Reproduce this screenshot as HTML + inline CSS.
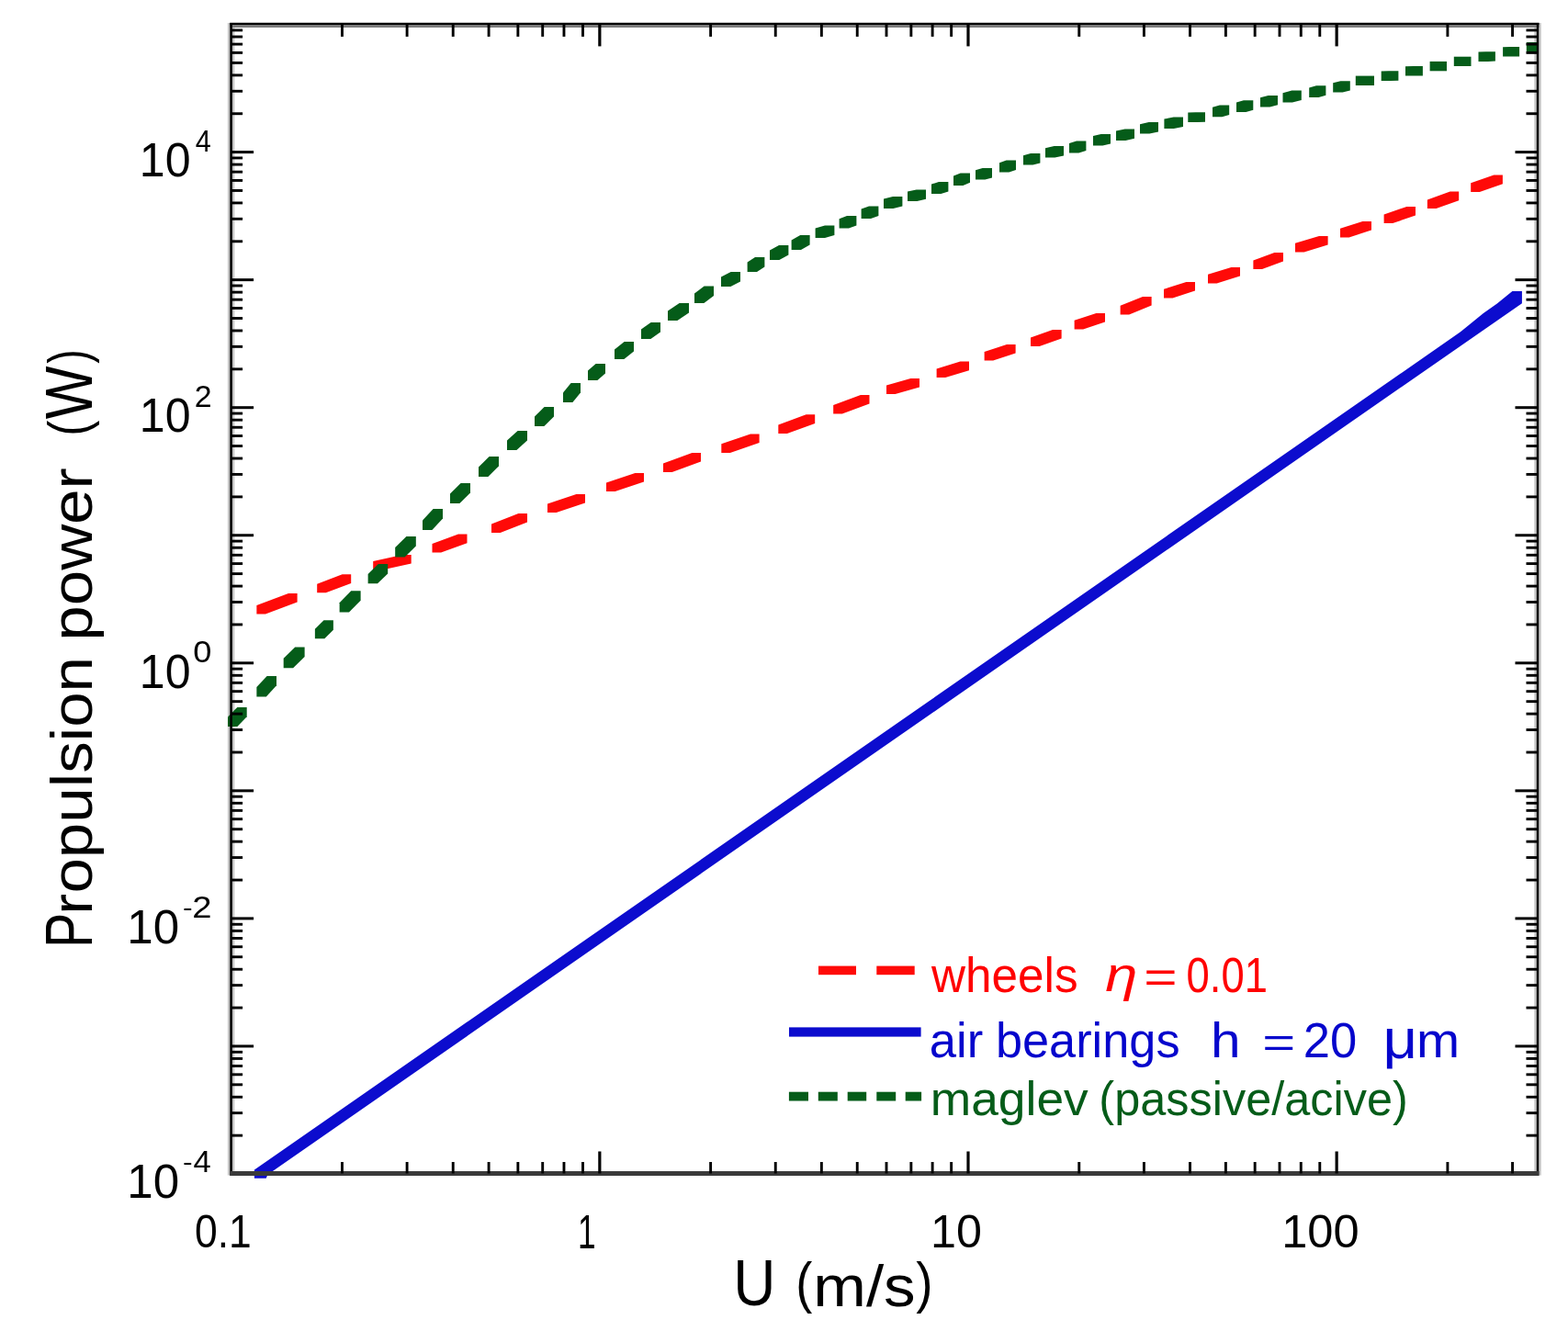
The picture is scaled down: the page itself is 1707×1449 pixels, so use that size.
<!DOCTYPE html><html><head><meta charset="utf-8"><title>Propulsion power vs U</title><style>html,body{margin:0;padding:0;background:#fff;overflow:hidden}svg{display:block}svg text{white-space:pre}</style></head><body><svg width="1707" height="1449" viewBox="0 0 1707 1449">
<rect width="100%" height="100%" fill="#fff"/>
<g font-family="'Liberation Sans', Arial, sans-serif" xml:space="preserve">
<line x1="251.6" y1="24.9" x2="251.6" y2="1279.5" stroke="#c6c6c6" stroke-width="7.4"/>
<line x1="1674.0" y1="24.9" x2="1674.0" y2="1279.5" stroke="#c6c6c6" stroke-width="7.4"/>
<line x1="250.2" y1="28.4" x2="1675.5" y2="28.4" stroke="#7c7c7c" stroke-width="3.0"/>
<polygon fill="#0c0cce" points="276.90,1282.80 289.70,1282.80 291.50,1278.70 1656.90,330.13 1656.90,317.10 1646.40,317.10 1629.80,330.60 1614.90,341.10 1590.00,361.31 276.90,1273.54"/>
<g fill="#ff0a08">
<polygon points="279.40,668.60 289.00,668.60 323.60,655.60 323.60,646.00 314.00,646.00 279.40,659.00"/>
<polygon points="345.20,645.30 354.80,645.30 382.20,634.90 382.20,625.30 372.60,625.30 345.20,635.70"/>
<polygon points="406.20,620.60 415.80,620.60 447.70,613.60 447.70,604.00 438.10,604.00 406.20,611.00"/>
<polygon points="470.50,601.60 480.10,601.60 508.50,591.20 508.50,581.60 498.90,581.60 470.50,592.00"/>
<polygon points="535.00,580.00 544.60,580.00 574.00,568.60 574.00,559.00 564.40,559.00 535.00,570.40"/>
<polygon points="596.00,558.00 605.60,558.00 637.00,547.60 637.00,538.00 627.40,538.00 596.00,548.40"/>
<polygon points="660.00,535.00 669.60,535.00 701.00,524.60 701.00,515.00 691.40,515.00 660.00,525.40"/>
<polygon points="722.00,514.00 731.60,514.00 763.00,502.60 763.00,493.00 753.40,493.00 722.00,504.40"/>
<polygon points="785.30,492.90 794.90,492.90 826.60,482.00 826.60,472.40 817.00,472.40 785.30,483.30"/>
<polygon points="847.30,472.00 856.90,472.00 887.20,460.90 887.20,451.30 877.60,451.30 847.30,462.40"/>
<polygon points="907.20,450.60 916.80,450.60 946.50,439.60 946.50,430.00 936.90,430.00 907.20,441.00"/>
<polygon points="965.00,429.00 974.60,429.00 1001.00,421.60 1001.00,412.00 991.40,412.00 965.00,419.40"/>
<polygon points="1019.60,411.00 1029.20,411.00 1055.00,403.20 1055.00,393.60 1045.40,393.60 1019.60,401.40"/>
<polygon points="1071.60,392.60 1081.20,392.60 1105.60,384.60 1105.60,375.00 1096.00,375.00 1071.60,383.00"/>
<polygon points="1122.00,377.00 1131.60,377.00 1155.60,368.60 1155.60,359.00 1146.00,359.00 1122.00,367.40"/>
<polygon points="1169.60,358.40 1179.20,358.40 1203.00,350.60 1203.00,341.00 1193.40,341.00 1169.60,348.80"/>
<polygon points="1219.60,342.40 1229.20,342.40 1253.60,332.60 1253.60,323.00 1244.00,323.00 1219.60,332.80"/>
<polygon points="1267.00,324.40 1276.60,324.40 1301.00,316.60 1301.00,307.00 1291.40,307.00 1267.00,314.80"/>
<polygon points="1315.00,308.40 1324.60,308.40 1350.00,300.60 1350.00,291.00 1340.40,291.00 1315.00,298.80"/>
<polygon points="1364.40,293.00 1374.00,293.00 1397.00,284.60 1397.00,275.00 1387.40,275.00 1364.40,283.40"/>
<polygon points="1410.00,274.40 1419.60,274.40 1445.60,266.60 1445.60,257.00 1436.00,257.00 1410.00,264.80"/>
<polygon points="1459.00,258.40 1468.60,258.40 1493.00,250.60 1493.00,241.00 1483.40,241.00 1459.00,248.80"/>
<polygon points="1506.60,243.00 1516.20,243.00 1541.00,234.50 1541.00,224.90 1531.40,224.90 1506.60,233.40"/>
<polygon points="1553.90,227.00 1563.50,227.00 1588.20,218.20 1588.20,208.60 1578.60,208.60 1553.90,217.40"/>
<polygon points="1601.20,208.90 1610.80,208.90 1635.90,200.20 1635.90,190.60 1626.30,190.60 1601.20,199.30"/>
</g>
<g fill="#055c19">
<polygon points="248.00,791.00 258.40,791.00 268.70,780.30 268.70,769.90 258.30,769.90 248.00,780.60"/>
<polygon points="279.40,758.50 289.80,758.50 301.00,746.30 301.00,735.90 290.60,735.90 279.40,748.10"/>
<polygon points="308.70,727.20 319.10,727.20 331.60,715.00 331.60,704.60 321.20,704.60 308.70,716.80"/>
<polygon points="342.90,695.20 353.30,695.20 362.90,685.70 362.90,675.30 352.50,675.30 342.90,684.80"/>
<polygon points="369.60,666.60 380.00,666.60 392.60,653.70 392.60,643.30 382.20,643.30 369.60,656.20"/>
<polygon points="400.60,635.30 411.00,635.30 422.20,624.40 422.20,614.00 411.80,614.00 400.60,624.90"/>
<polygon points="430.20,606.50 440.60,606.50 452.80,594.40 452.80,584.00 442.40,584.00 430.20,596.10"/>
<polygon points="460.00,577.00 470.40,577.00 482.00,564.40 482.00,554.00 471.60,554.00 460.00,566.60"/>
<polygon points="490.00,548.00 500.40,548.00 512.00,536.40 512.00,526.00 501.60,526.00 490.00,537.60"/>
<polygon points="521.00,519.00 531.40,519.00 543.00,507.40 543.00,497.00 532.60,497.00 521.00,508.60"/>
<polygon points="552.00,490.00 562.40,490.00 574.00,479.40 574.00,469.00 563.60,469.00 552.00,479.60"/>
<polygon points="582.00,464.00 592.40,464.00 603.00,453.40 603.00,443.00 592.60,443.00 582.00,453.60"/>
<polygon points="613.00,438.00 623.40,438.00 632.00,427.40 632.00,417.00 621.60,417.00 613.00,427.60"/>
<polygon points="640.00,414.00 650.40,414.00 659.00,406.40 659.00,396.00 648.60,396.00 640.00,403.60"/>
<polygon points="669.00,391.00 679.40,391.00 690.00,382.40 690.00,372.00 679.60,372.00 669.00,380.60"/>
<polygon points="698.00,369.00 708.40,369.00 719.00,361.40 719.00,351.00 708.60,351.00 698.00,358.60"/>
<polygon points="727.00,349.00 737.40,349.00 750.00,340.40 750.00,330.00 739.60,330.00 727.00,338.60"/>
<polygon points="756.00,330.00 766.40,330.00 777.00,322.00 777.00,311.60 766.60,311.60 756.00,319.60"/>
<polygon points="785.00,312.00 795.40,312.00 806.00,306.40 806.00,296.00 795.60,296.00 785.00,301.60"/>
<polygon points="813.60,296.00 824.00,296.00 832.40,290.40 832.40,280.00 822.00,280.00 813.60,285.60"/>
<polygon points="838.00,283.00 848.40,283.00 858.40,277.40 858.40,267.00 848.00,267.00 838.00,272.60"/>
<polygon points="861.60,272.00 872.00,272.00 881.60,266.40 881.60,256.00 871.20,256.00 861.60,261.60"/>
<polygon points="887.60,259.00 898.00,259.00 908.40,256.00 908.40,245.60 898.00,245.60 887.60,248.60"/>
<polygon points="913.60,248.60 924.00,248.60 932.40,245.40 932.40,235.00 922.00,235.00 913.60,238.20"/>
<polygon points="937.60,238.00 948.00,238.00 956.40,235.00 956.40,224.60 946.00,224.60 937.60,227.60"/>
<polygon points="962.00,227.00 972.40,227.00 982.40,224.40 982.40,214.00 972.00,214.00 962.00,216.60"/>
<polygon points="988.00,219.00 998.40,219.00 1008.00,216.80 1008.00,206.40 997.60,206.40 988.00,208.60"/>
<polygon points="1014.00,211.00 1024.40,211.00 1032.40,208.40 1032.40,198.00 1022.00,198.00 1014.00,200.60"/>
<polygon points="1038.00,202.00 1048.40,202.00 1056.00,198.80 1056.00,188.40 1045.60,188.40 1038.00,191.60"/>
<polygon points="1062.00,195.60 1072.40,195.60 1080.00,193.40 1080.00,183.00 1069.60,183.00 1062.00,185.20"/>
<polygon points="1088.00,187.60 1098.40,187.60 1106.00,185.00 1106.00,174.60 1095.60,174.60 1088.00,177.20"/>
<polygon points="1114.00,179.60 1124.40,179.60 1132.40,177.40 1132.40,167.00 1122.00,167.00 1114.00,169.20"/>
<polygon points="1138.00,171.60 1148.40,171.60 1158.00,169.40 1158.00,159.00 1147.60,159.00 1138.00,161.20"/>
<polygon points="1164.00,166.40 1174.40,166.40 1182.40,164.00 1182.40,153.60 1172.00,153.60 1164.00,156.00"/>
<polygon points="1190.00,158.40 1200.40,158.40 1209.00,156.40 1209.00,146.00 1198.60,146.00 1190.00,148.00"/>
<polygon points="1215.00,153.00 1225.40,153.00 1235.00,150.80 1235.00,140.40 1224.60,140.40 1215.00,142.60"/>
<polygon points="1241.00,145.60 1251.40,145.60 1261.00,143.40 1261.00,133.00 1250.60,133.00 1241.00,135.20"/>
<polygon points="1267.40,140.00 1277.80,140.00 1288.00,138.00 1288.00,127.60 1277.60,127.60 1267.40,129.60"/>
<polygon points="1293.30,133.00 1303.70,133.00 1312.00,132.70 1312.00,122.30 1301.60,122.30 1293.30,122.60"/>
<polygon points="1320.00,127.20 1330.40,127.20 1338.20,125.00 1338.20,114.60 1327.80,114.60 1320.00,116.80"/>
<polygon points="1346.00,121.90 1356.40,121.90 1364.30,119.70 1364.30,109.30 1353.90,109.30 1346.00,111.50"/>
<polygon points="1372.00,116.60 1382.40,116.60 1391.00,114.30 1391.00,103.90 1380.60,103.90 1372.00,106.20"/>
<polygon points="1396.50,111.60 1406.90,111.60 1416.80,109.00 1416.80,98.60 1406.40,98.60 1396.50,101.20"/>
<polygon points="1425.20,105.90 1435.60,105.90 1443.40,103.70 1443.40,93.30 1433.00,93.30 1425.20,95.50"/>
<polygon points="1451.20,100.60 1461.60,100.60 1469.80,98.60 1469.80,88.20 1459.40,88.20 1451.20,90.20"/>
<polygon points="1475.80,93.00 1486.20,93.00 1496.00,93.00 1496.00,82.60 1485.60,82.60 1475.80,82.60"/>
<polygon points="1503.70,87.90 1514.10,87.90 1522.40,87.70 1522.40,77.30 1512.00,77.30 1503.70,77.50"/>
<polygon points="1530.00,82.60 1540.40,82.60 1548.90,82.40 1548.90,72.00 1538.50,72.00 1530.00,72.20"/>
<polygon points="1556.60,77.30 1567.00,77.30 1575.00,77.30 1575.00,66.90 1564.60,66.90 1556.60,66.90"/>
<polygon points="1582.80,72.00 1593.10,72.00 1601.50,72.00 1601.50,61.70 1591.20,61.70 1582.80,61.70"/>
<polygon points="1609.50,66.90 1619.90,66.90 1627.90,66.60 1627.90,56.20 1617.50,56.20 1609.50,56.50"/>
<polygon points="1636.10,61.60 1646.50,61.60 1654.10,61.40 1654.10,51.00 1643.70,51.00 1636.10,51.20"/>
<polygon points="1661.80,56.60 1672.20,56.60 1673.20,56.40 1673.20,46.00 1662.80,46.00 1661.80,46.20"/>
</g>
<g stroke="#000"><line x1="251.6" y1="24.9" x2="251.6" y2="1279.5" stroke="#000" stroke-width="2.6"/><line x1="1674.0" y1="24.9" x2="1674.0" y2="1279.5" stroke="#000" stroke-width="2.4"/><line x1="250.2" y1="25.85" x2="1675.5" y2="25.85" stroke="#000" stroke-width="2.1"/><line x1="250.2" y1="1277.4" x2="1675.5" y2="1277.4" stroke="#3a3a3a" stroke-width="4.95"/></g>
<g stroke="#000"><line x1="372.46" y1="1277.5" x2="372.46" y2="1265.0" stroke-width="2.9"/><line x1="372.46" y1="26.4" x2="372.46" y2="39.9" stroke-width="2.9"/><line x1="443.10" y1="1277.5" x2="443.10" y2="1265.0" stroke-width="2.9"/><line x1="443.10" y1="26.4" x2="443.10" y2="39.9" stroke-width="2.9"/><line x1="493.22" y1="1277.5" x2="493.22" y2="1265.0" stroke-width="2.9"/><line x1="493.22" y1="26.4" x2="493.22" y2="39.9" stroke-width="2.9"/><line x1="532.09" y1="1277.5" x2="532.09" y2="1265.0" stroke-width="2.9"/><line x1="532.09" y1="26.4" x2="532.09" y2="39.9" stroke-width="2.9"/><line x1="563.86" y1="1277.5" x2="563.86" y2="1265.0" stroke-width="2.9"/><line x1="563.86" y1="26.4" x2="563.86" y2="39.9" stroke-width="2.9"/><line x1="590.71" y1="1277.5" x2="590.71" y2="1265.0" stroke-width="2.9"/><line x1="590.71" y1="26.4" x2="590.71" y2="39.9" stroke-width="2.9"/><line x1="613.97" y1="1277.5" x2="613.97" y2="1265.0" stroke-width="2.9"/><line x1="613.97" y1="26.4" x2="613.97" y2="39.9" stroke-width="2.9"/><line x1="634.49" y1="1277.5" x2="634.49" y2="1265.0" stroke-width="2.9"/><line x1="634.49" y1="26.4" x2="634.49" y2="39.9" stroke-width="2.9"/><line x1="652.85" y1="1277.5" x2="652.85" y2="1253.5" stroke-width="3.2"/><line x1="652.85" y1="26.4" x2="652.85" y2="50.4" stroke-width="3.2"/><line x1="773.61" y1="1277.5" x2="773.61" y2="1265.0" stroke-width="2.9"/><line x1="773.61" y1="26.4" x2="773.61" y2="39.9" stroke-width="2.9"/><line x1="844.25" y1="1277.5" x2="844.25" y2="1265.0" stroke-width="2.9"/><line x1="844.25" y1="26.4" x2="844.25" y2="39.9" stroke-width="2.9"/><line x1="894.37" y1="1277.5" x2="894.37" y2="1265.0" stroke-width="2.9"/><line x1="894.37" y1="26.4" x2="894.37" y2="39.9" stroke-width="2.9"/><line x1="933.24" y1="1277.5" x2="933.24" y2="1265.0" stroke-width="2.9"/><line x1="933.24" y1="26.4" x2="933.24" y2="39.9" stroke-width="2.9"/><line x1="965.01" y1="1277.5" x2="965.01" y2="1265.0" stroke-width="2.9"/><line x1="965.01" y1="26.4" x2="965.01" y2="39.9" stroke-width="2.9"/><line x1="991.86" y1="1277.5" x2="991.86" y2="1265.0" stroke-width="2.9"/><line x1="991.86" y1="26.4" x2="991.86" y2="39.9" stroke-width="2.9"/><line x1="1015.12" y1="1277.5" x2="1015.12" y2="1265.0" stroke-width="2.9"/><line x1="1015.12" y1="26.4" x2="1015.12" y2="39.9" stroke-width="2.9"/><line x1="1035.64" y1="1277.5" x2="1035.64" y2="1265.0" stroke-width="2.9"/><line x1="1035.64" y1="26.4" x2="1035.64" y2="39.9" stroke-width="2.9"/><line x1="1054.00" y1="1277.5" x2="1054.00" y2="1253.5" stroke-width="3.2"/><line x1="1054.00" y1="26.4" x2="1054.00" y2="50.4" stroke-width="3.2"/><line x1="1174.76" y1="1277.5" x2="1174.76" y2="1265.0" stroke-width="2.9"/><line x1="1174.76" y1="26.4" x2="1174.76" y2="39.9" stroke-width="2.9"/><line x1="1245.40" y1="1277.5" x2="1245.40" y2="1265.0" stroke-width="2.9"/><line x1="1245.40" y1="26.4" x2="1245.40" y2="39.9" stroke-width="2.9"/><line x1="1295.52" y1="1277.5" x2="1295.52" y2="1265.0" stroke-width="2.9"/><line x1="1295.52" y1="26.4" x2="1295.52" y2="39.9" stroke-width="2.9"/><line x1="1334.39" y1="1277.5" x2="1334.39" y2="1265.0" stroke-width="2.9"/><line x1="1334.39" y1="26.4" x2="1334.39" y2="39.9" stroke-width="2.9"/><line x1="1366.16" y1="1277.5" x2="1366.16" y2="1265.0" stroke-width="2.9"/><line x1="1366.16" y1="26.4" x2="1366.16" y2="39.9" stroke-width="2.9"/><line x1="1393.01" y1="1277.5" x2="1393.01" y2="1265.0" stroke-width="2.9"/><line x1="1393.01" y1="26.4" x2="1393.01" y2="39.9" stroke-width="2.9"/><line x1="1416.27" y1="1277.5" x2="1416.27" y2="1265.0" stroke-width="2.9"/><line x1="1416.27" y1="26.4" x2="1416.27" y2="39.9" stroke-width="2.9"/><line x1="1436.79" y1="1277.5" x2="1436.79" y2="1265.0" stroke-width="2.9"/><line x1="1436.79" y1="26.4" x2="1436.79" y2="39.9" stroke-width="2.9"/><line x1="1455.15" y1="1277.5" x2="1455.15" y2="1253.5" stroke-width="3.2"/><line x1="1455.15" y1="26.4" x2="1455.15" y2="50.4" stroke-width="3.2"/><line x1="1575.91" y1="1277.5" x2="1575.91" y2="1265.0" stroke-width="2.9"/><line x1="1575.91" y1="26.4" x2="1575.91" y2="39.9" stroke-width="2.9"/><line x1="1646.55" y1="1277.5" x2="1646.55" y2="1265.0" stroke-width="2.9"/><line x1="1646.55" y1="26.4" x2="1646.55" y2="39.9" stroke-width="2.9"/><line x1="251.6" y1="1236.14" x2="264.1" y2="1236.14" stroke-width="2.9"/><line x1="1674.0" y1="1236.14" x2="1661.5" y2="1236.14" stroke-width="2.9"/><line x1="251.6" y1="1211.66" x2="264.1" y2="1211.66" stroke-width="2.9"/><line x1="1674.0" y1="1211.66" x2="1661.5" y2="1211.66" stroke-width="2.9"/><line x1="251.6" y1="1194.28" x2="264.1" y2="1194.28" stroke-width="2.9"/><line x1="1674.0" y1="1194.28" x2="1661.5" y2="1194.28" stroke-width="2.9"/><line x1="251.6" y1="1180.81" x2="264.1" y2="1180.81" stroke-width="2.9"/><line x1="1674.0" y1="1180.81" x2="1661.5" y2="1180.81" stroke-width="2.9"/><line x1="251.6" y1="1169.80" x2="264.1" y2="1169.80" stroke-width="2.9"/><line x1="1674.0" y1="1169.80" x2="1661.5" y2="1169.80" stroke-width="2.9"/><line x1="251.6" y1="1160.49" x2="264.1" y2="1160.49" stroke-width="2.9"/><line x1="1674.0" y1="1160.49" x2="1661.5" y2="1160.49" stroke-width="2.9"/><line x1="251.6" y1="1152.43" x2="264.1" y2="1152.43" stroke-width="2.9"/><line x1="1674.0" y1="1152.43" x2="1661.5" y2="1152.43" stroke-width="2.9"/><line x1="251.6" y1="1145.31" x2="264.1" y2="1145.31" stroke-width="2.9"/><line x1="1674.0" y1="1145.31" x2="1661.5" y2="1145.31" stroke-width="2.9"/><line x1="251.6" y1="1138.95" x2="276.1" y2="1138.95" stroke-width="3.0"/><line x1="1674.0" y1="1138.95" x2="1649.5" y2="1138.95" stroke-width="3.0"/><line x1="251.6" y1="1097.09" x2="264.1" y2="1097.09" stroke-width="2.9"/><line x1="1674.0" y1="1097.09" x2="1661.5" y2="1097.09" stroke-width="2.9"/><line x1="251.6" y1="1072.61" x2="264.1" y2="1072.61" stroke-width="2.9"/><line x1="1674.0" y1="1072.61" x2="1661.5" y2="1072.61" stroke-width="2.9"/><line x1="251.6" y1="1055.23" x2="264.1" y2="1055.23" stroke-width="2.9"/><line x1="1674.0" y1="1055.23" x2="1661.5" y2="1055.23" stroke-width="2.9"/><line x1="251.6" y1="1041.76" x2="264.1" y2="1041.76" stroke-width="2.9"/><line x1="1674.0" y1="1041.76" x2="1661.5" y2="1041.76" stroke-width="2.9"/><line x1="251.6" y1="1030.75" x2="264.1" y2="1030.75" stroke-width="2.9"/><line x1="1674.0" y1="1030.75" x2="1661.5" y2="1030.75" stroke-width="2.9"/><line x1="251.6" y1="1021.44" x2="264.1" y2="1021.44" stroke-width="2.9"/><line x1="1674.0" y1="1021.44" x2="1661.5" y2="1021.44" stroke-width="2.9"/><line x1="251.6" y1="1013.38" x2="264.1" y2="1013.38" stroke-width="2.9"/><line x1="1674.0" y1="1013.38" x2="1661.5" y2="1013.38" stroke-width="2.9"/><line x1="251.6" y1="1006.26" x2="264.1" y2="1006.26" stroke-width="2.9"/><line x1="1674.0" y1="1006.26" x2="1661.5" y2="1006.26" stroke-width="2.9"/><line x1="251.6" y1="999.90" x2="276.1" y2="999.90" stroke-width="3.0"/><line x1="1674.0" y1="999.90" x2="1649.5" y2="999.90" stroke-width="3.0"/><line x1="251.6" y1="958.04" x2="264.1" y2="958.04" stroke-width="2.9"/><line x1="1674.0" y1="958.04" x2="1661.5" y2="958.04" stroke-width="2.9"/><line x1="251.6" y1="933.56" x2="264.1" y2="933.56" stroke-width="2.9"/><line x1="1674.0" y1="933.56" x2="1661.5" y2="933.56" stroke-width="2.9"/><line x1="251.6" y1="916.18" x2="264.1" y2="916.18" stroke-width="2.9"/><line x1="1674.0" y1="916.18" x2="1661.5" y2="916.18" stroke-width="2.9"/><line x1="251.6" y1="902.71" x2="264.1" y2="902.71" stroke-width="2.9"/><line x1="1674.0" y1="902.71" x2="1661.5" y2="902.71" stroke-width="2.9"/><line x1="251.6" y1="891.70" x2="264.1" y2="891.70" stroke-width="2.9"/><line x1="1674.0" y1="891.70" x2="1661.5" y2="891.70" stroke-width="2.9"/><line x1="251.6" y1="882.39" x2="264.1" y2="882.39" stroke-width="2.9"/><line x1="1674.0" y1="882.39" x2="1661.5" y2="882.39" stroke-width="2.9"/><line x1="251.6" y1="874.33" x2="264.1" y2="874.33" stroke-width="2.9"/><line x1="1674.0" y1="874.33" x2="1661.5" y2="874.33" stroke-width="2.9"/><line x1="251.6" y1="867.21" x2="264.1" y2="867.21" stroke-width="2.9"/><line x1="1674.0" y1="867.21" x2="1661.5" y2="867.21" stroke-width="2.9"/><line x1="251.6" y1="860.85" x2="276.1" y2="860.85" stroke-width="3.0"/><line x1="1674.0" y1="860.85" x2="1649.5" y2="860.85" stroke-width="3.0"/><line x1="251.6" y1="818.99" x2="264.1" y2="818.99" stroke-width="2.9"/><line x1="1674.0" y1="818.99" x2="1661.5" y2="818.99" stroke-width="2.9"/><line x1="251.6" y1="794.51" x2="264.1" y2="794.51" stroke-width="2.9"/><line x1="1674.0" y1="794.51" x2="1661.5" y2="794.51" stroke-width="2.9"/><line x1="251.6" y1="777.13" x2="264.1" y2="777.13" stroke-width="2.9"/><line x1="1674.0" y1="777.13" x2="1661.5" y2="777.13" stroke-width="2.9"/><line x1="251.6" y1="763.66" x2="264.1" y2="763.66" stroke-width="2.9"/><line x1="1674.0" y1="763.66" x2="1661.5" y2="763.66" stroke-width="2.9"/><line x1="251.6" y1="752.65" x2="264.1" y2="752.65" stroke-width="2.9"/><line x1="1674.0" y1="752.65" x2="1661.5" y2="752.65" stroke-width="2.9"/><line x1="251.6" y1="743.34" x2="264.1" y2="743.34" stroke-width="2.9"/><line x1="1674.0" y1="743.34" x2="1661.5" y2="743.34" stroke-width="2.9"/><line x1="251.6" y1="735.28" x2="264.1" y2="735.28" stroke-width="2.9"/><line x1="1674.0" y1="735.28" x2="1661.5" y2="735.28" stroke-width="2.9"/><line x1="251.6" y1="728.16" x2="264.1" y2="728.16" stroke-width="2.9"/><line x1="1674.0" y1="728.16" x2="1661.5" y2="728.16" stroke-width="2.9"/><line x1="251.6" y1="721.80" x2="276.1" y2="721.80" stroke-width="3.0"/><line x1="1674.0" y1="721.80" x2="1649.5" y2="721.80" stroke-width="3.0"/><line x1="251.6" y1="679.94" x2="264.1" y2="679.94" stroke-width="2.9"/><line x1="1674.0" y1="679.94" x2="1661.5" y2="679.94" stroke-width="2.9"/><line x1="251.6" y1="655.46" x2="264.1" y2="655.46" stroke-width="2.9"/><line x1="1674.0" y1="655.46" x2="1661.5" y2="655.46" stroke-width="2.9"/><line x1="251.6" y1="638.08" x2="264.1" y2="638.08" stroke-width="2.9"/><line x1="1674.0" y1="638.08" x2="1661.5" y2="638.08" stroke-width="2.9"/><line x1="251.6" y1="624.61" x2="264.1" y2="624.61" stroke-width="2.9"/><line x1="1674.0" y1="624.61" x2="1661.5" y2="624.61" stroke-width="2.9"/><line x1="251.6" y1="613.60" x2="264.1" y2="613.60" stroke-width="2.9"/><line x1="1674.0" y1="613.60" x2="1661.5" y2="613.60" stroke-width="2.9"/><line x1="251.6" y1="604.29" x2="264.1" y2="604.29" stroke-width="2.9"/><line x1="1674.0" y1="604.29" x2="1661.5" y2="604.29" stroke-width="2.9"/><line x1="251.6" y1="596.23" x2="264.1" y2="596.23" stroke-width="2.9"/><line x1="1674.0" y1="596.23" x2="1661.5" y2="596.23" stroke-width="2.9"/><line x1="251.6" y1="589.11" x2="264.1" y2="589.11" stroke-width="2.9"/><line x1="1674.0" y1="589.11" x2="1661.5" y2="589.11" stroke-width="2.9"/><line x1="251.6" y1="582.75" x2="276.1" y2="582.75" stroke-width="3.0"/><line x1="1674.0" y1="582.75" x2="1649.5" y2="582.75" stroke-width="3.0"/><line x1="251.6" y1="540.89" x2="264.1" y2="540.89" stroke-width="2.9"/><line x1="1674.0" y1="540.89" x2="1661.5" y2="540.89" stroke-width="2.9"/><line x1="251.6" y1="516.41" x2="264.1" y2="516.41" stroke-width="2.9"/><line x1="1674.0" y1="516.41" x2="1661.5" y2="516.41" stroke-width="2.9"/><line x1="251.6" y1="499.03" x2="264.1" y2="499.03" stroke-width="2.9"/><line x1="1674.0" y1="499.03" x2="1661.5" y2="499.03" stroke-width="2.9"/><line x1="251.6" y1="485.56" x2="264.1" y2="485.56" stroke-width="2.9"/><line x1="1674.0" y1="485.56" x2="1661.5" y2="485.56" stroke-width="2.9"/><line x1="251.6" y1="474.55" x2="264.1" y2="474.55" stroke-width="2.9"/><line x1="1674.0" y1="474.55" x2="1661.5" y2="474.55" stroke-width="2.9"/><line x1="251.6" y1="465.24" x2="264.1" y2="465.24" stroke-width="2.9"/><line x1="1674.0" y1="465.24" x2="1661.5" y2="465.24" stroke-width="2.9"/><line x1="251.6" y1="457.18" x2="264.1" y2="457.18" stroke-width="2.9"/><line x1="1674.0" y1="457.18" x2="1661.5" y2="457.18" stroke-width="2.9"/><line x1="251.6" y1="450.06" x2="264.1" y2="450.06" stroke-width="2.9"/><line x1="1674.0" y1="450.06" x2="1661.5" y2="450.06" stroke-width="2.9"/><line x1="251.6" y1="443.70" x2="276.1" y2="443.70" stroke-width="3.0"/><line x1="1674.0" y1="443.70" x2="1649.5" y2="443.70" stroke-width="3.0"/><line x1="251.6" y1="401.84" x2="264.1" y2="401.84" stroke-width="2.9"/><line x1="1674.0" y1="401.84" x2="1661.5" y2="401.84" stroke-width="2.9"/><line x1="251.6" y1="377.36" x2="264.1" y2="377.36" stroke-width="2.9"/><line x1="1674.0" y1="377.36" x2="1661.5" y2="377.36" stroke-width="2.9"/><line x1="251.6" y1="359.98" x2="264.1" y2="359.98" stroke-width="2.9"/><line x1="1674.0" y1="359.98" x2="1661.5" y2="359.98" stroke-width="2.9"/><line x1="251.6" y1="346.51" x2="264.1" y2="346.51" stroke-width="2.9"/><line x1="1674.0" y1="346.51" x2="1661.5" y2="346.51" stroke-width="2.9"/><line x1="251.6" y1="335.50" x2="264.1" y2="335.50" stroke-width="2.9"/><line x1="1674.0" y1="335.50" x2="1661.5" y2="335.50" stroke-width="2.9"/><line x1="251.6" y1="326.19" x2="264.1" y2="326.19" stroke-width="2.9"/><line x1="1674.0" y1="326.19" x2="1661.5" y2="326.19" stroke-width="2.9"/><line x1="251.6" y1="318.13" x2="264.1" y2="318.13" stroke-width="2.9"/><line x1="1674.0" y1="318.13" x2="1661.5" y2="318.13" stroke-width="2.9"/><line x1="251.6" y1="311.01" x2="264.1" y2="311.01" stroke-width="2.9"/><line x1="1674.0" y1="311.01" x2="1661.5" y2="311.01" stroke-width="2.9"/><line x1="251.6" y1="304.65" x2="276.1" y2="304.65" stroke-width="3.0"/><line x1="1674.0" y1="304.65" x2="1649.5" y2="304.65" stroke-width="3.0"/><line x1="251.6" y1="262.79" x2="264.1" y2="262.79" stroke-width="2.9"/><line x1="1674.0" y1="262.79" x2="1661.5" y2="262.79" stroke-width="2.9"/><line x1="251.6" y1="238.31" x2="264.1" y2="238.31" stroke-width="2.9"/><line x1="1674.0" y1="238.31" x2="1661.5" y2="238.31" stroke-width="2.9"/><line x1="251.6" y1="220.93" x2="264.1" y2="220.93" stroke-width="2.9"/><line x1="1674.0" y1="220.93" x2="1661.5" y2="220.93" stroke-width="2.9"/><line x1="251.6" y1="207.46" x2="264.1" y2="207.46" stroke-width="2.9"/><line x1="1674.0" y1="207.46" x2="1661.5" y2="207.46" stroke-width="2.9"/><line x1="251.6" y1="196.45" x2="264.1" y2="196.45" stroke-width="2.9"/><line x1="1674.0" y1="196.45" x2="1661.5" y2="196.45" stroke-width="2.9"/><line x1="251.6" y1="187.14" x2="264.1" y2="187.14" stroke-width="2.9"/><line x1="1674.0" y1="187.14" x2="1661.5" y2="187.14" stroke-width="2.9"/><line x1="251.6" y1="179.08" x2="264.1" y2="179.08" stroke-width="2.9"/><line x1="1674.0" y1="179.08" x2="1661.5" y2="179.08" stroke-width="2.9"/><line x1="251.6" y1="171.96" x2="264.1" y2="171.96" stroke-width="2.9"/><line x1="1674.0" y1="171.96" x2="1661.5" y2="171.96" stroke-width="2.9"/><line x1="251.6" y1="165.60" x2="276.1" y2="165.60" stroke-width="3.0"/><line x1="1674.0" y1="165.60" x2="1649.5" y2="165.60" stroke-width="3.0"/><line x1="251.6" y1="123.74" x2="264.1" y2="123.74" stroke-width="2.9"/><line x1="1674.0" y1="123.74" x2="1661.5" y2="123.74" stroke-width="2.9"/><line x1="251.6" y1="99.26" x2="264.1" y2="99.26" stroke-width="2.9"/><line x1="1674.0" y1="99.26" x2="1661.5" y2="99.26" stroke-width="2.9"/><line x1="251.6" y1="81.88" x2="264.1" y2="81.88" stroke-width="2.9"/><line x1="1674.0" y1="81.88" x2="1661.5" y2="81.88" stroke-width="2.9"/><line x1="251.6" y1="68.41" x2="264.1" y2="68.41" stroke-width="2.9"/><line x1="1674.0" y1="68.41" x2="1661.5" y2="68.41" stroke-width="2.9"/><line x1="251.6" y1="57.40" x2="264.1" y2="57.40" stroke-width="2.9"/><line x1="1674.0" y1="57.40" x2="1661.5" y2="57.40" stroke-width="2.9"/><line x1="251.6" y1="48.09" x2="264.1" y2="48.09" stroke-width="2.9"/><line x1="1674.0" y1="48.09" x2="1661.5" y2="48.09" stroke-width="2.9"/><line x1="251.6" y1="40.03" x2="264.1" y2="40.03" stroke-width="2.9"/><line x1="1674.0" y1="40.03" x2="1661.5" y2="40.03" stroke-width="2.9"/><line x1="251.6" y1="32.91" x2="264.1" y2="32.91" stroke-width="2.9"/><line x1="1674.0" y1="32.91" x2="1661.5" y2="32.91" stroke-width="2.9"/></g>
<g><text transform="matrix(0.50101 0 0 0.51831 151.79 192.28)" font-size="100" fill="#000">10</text><text transform="matrix(0.30588 0 0 0.33333 212.79 164.50)" font-size="100" fill="#000">4</text><text transform="matrix(0.50101 0 0 0.51831 151.79 470.38)" font-size="100" fill="#000">10</text><text transform="matrix(0.33913 0 0 0.33333 211.70 442.60)" font-size="100" fill="#000">2</text><text transform="matrix(0.50101 0 0 0.51831 151.79 749.08)" font-size="100" fill="#000">10</text><text transform="matrix(0.36250 0 0 0.33333 210.15 721.30)" font-size="100" fill="#000">0</text><text transform="matrix(0.51111 0 0 0.51831 138.31 1026.58)" font-size="100" fill="#000">10</text><text transform="matrix(0.38261 0 0 0.33333 209.19 998.80)" font-size="100" fill="#000">2</text><text transform="matrix(0.31923 0 0 0.26000 199.02 996.62)" font-size="100" fill="#000">-</text><text transform="matrix(0.51111 0 0 0.51831 138.31 1304.18)" font-size="100" fill="#000">10</text><text transform="matrix(0.34510 0 0 0.33333 210.41 1276.40)" font-size="100" fill="#000">4</text><text transform="matrix(0.31923 0 0 0.26000 199.02 1274.22)" font-size="100" fill="#000">-</text><text transform="matrix(0.44462 0 0 0.50845 212.02 1358.49)" font-size="100" fill="#000">0.1</text><text transform="matrix(0.35349 0 0 0.51739 628.97 1359.00)" font-size="100" fill="#000">1</text><text transform="matrix(0.50303 0 0 0.50845 1012.98 1358.49)" font-size="100" fill="#000">10</text><text transform="matrix(0.50645 0 0 0.50845 1395.15 1358.49)" font-size="100" fill="#000">100</text></g>
<text transform="matrix(0.63929 0 0 0.70714 798.29 1421.19)" font-size="100" fill="#000">U</text>
<text transform="matrix(0.54231 0 0 0.60851 866.15 1416.82)" font-size="100" fill="#000">(</text>
<text transform="matrix(0.55000 0 0 0.60851 997.25 1416.82)" font-size="100" fill="#000">)</text>
<text transform="matrix(0.69200 0 0 0.63889 885.26 1421.60)" font-size="100" fill="#000">m/s</text>
<text transform="matrix(0 -0.57358 0.72174 0 100.10 1031.99)" font-size="100" fill="#000">P</text>
<text transform="matrix(0 -0.69184 0.63333 0 100.10 995.64)" font-size="100" fill="#000">ropulsion</text>
<text transform="matrix(0 -0.69205 0.63333 0 100.10 697.84)" font-size="100" fill="#000">power</text>
<text transform="matrix(0 -0.51154 0.61064 0 95.08 474.67)" font-size="100" fill="#000">(</text>
<text transform="matrix(0 -0.61183 0.71884 0 100.10 456.21)" font-size="100" fill="#000">W</text>
<text transform="matrix(0 -0.46538 0.61064 0 95.08 395.87)" font-size="100" fill="#000">)</text>
<g><rect x="891.0" y="1051.6" width="41.0" height="9.6" fill="#ff0a08"/><rect x="954.3" y="1051.6" width="41.4" height="9.6" fill="#ff0a08"/><rect x="859.0" y="1118.4" width="143.6" height="10.2" fill="#0c0cce"/><rect x="858.9" y="1188.7" width="21.1" height="9.8" fill="#055c19"/><rect x="890.8" y="1188.7" width="21.0" height="9.8" fill="#055c19"/><rect x="922.7" y="1188.7" width="20.5" height="9.8" fill="#055c19"/><rect x="954.3" y="1188.7" width="20.9" height="9.8" fill="#055c19"/><rect x="985.7" y="1188.7" width="17.4" height="9.8" fill="#055c19"/><text transform="matrix(0.51266 0 0 0.53400 1014.10 1079.60)" font-size="100" fill="#ff0000">wheels</text><text transform="matrix(0.63265 0 0 0.52267 1203.13 1079.32)" font-size="100" fill="#ff0000" font-style="italic">η</text><text transform="matrix(0.62292 0 0 0.48438 1245.19 1080.43)" font-size="100" fill="#ff0000">=</text><text transform="matrix(0.45376 0 0 0.53400 1291.58 1079.60)" font-size="100" fill="#ff0000">0.01</text><text transform="matrix(0.52667 0 0 0.53400 1011.69 1151.00)" font-size="100" fill="#0505cc">air</text><text transform="matrix(0.52306 0 0 0.53400 1083.94 1151.00)" font-size="100" fill="#0505cc">bearings</text><text transform="matrix(0.58571 0 0 0.53400 1317.90 1151.00)" font-size="100" fill="#0505cc">h</text><text transform="matrix(0.61667 0 0 0.46875 1374.22 1151.07)" font-size="100" fill="#0505cc">=</text><text transform="matrix(0.52549 0 0 0.53400 1418.67 1151.00)" font-size="100" fill="#0505cc">20</text><text transform="matrix(0.65349 0 0 0.60278 1505.43 1152.15)" font-size="100" fill="#0505cc">μ</text><text transform="matrix(0.56571 0 0 0.53704 1542.04 1151.00)" font-size="100" fill="#0505cc">m</text><text transform="matrix(0.53365 0 0 0.52000 1012.76 1213.80)" font-size="100" fill="#055c19">maglev</text><text transform="matrix(0.50458 0 0 0.52000 1196.37 1213.80)" font-size="100" fill="#055c19">(passive/acive)</text></g>
</g></svg></body></html>
